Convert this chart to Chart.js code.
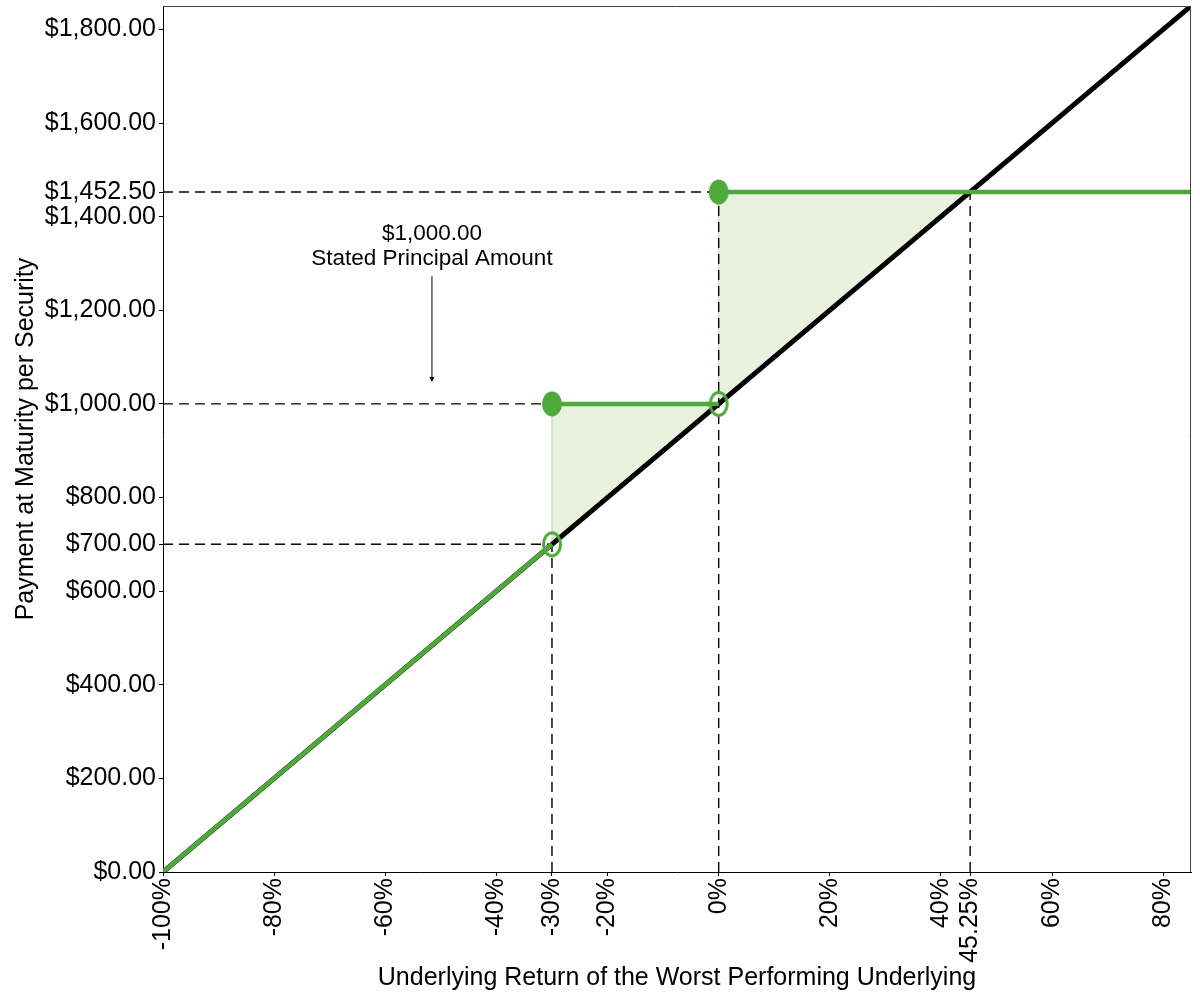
<!DOCTYPE html>
<html>
<head>
<meta charset="utf-8">
<script src="https://cdn.jsdelivr.net/npm/chart.js@4"></script>
<style>
  html, body { margin: 0; padding: 0; background: #fff; }
  #wrap { width: 1200px; height: 1000px; }
</style>
</head>
<body>
<div id="wrap"><canvas id="c" width="1200" height="1000"></canvas></div>
<script>
// ---- data ----
const xTicks = [-100, -80, -60, -40, -30, -20, 0, 20, 40, 45.25, 60, 80];
const yTicks = [0, 200, 400, 600, 700, 800, 1000, 1200, 1400, 1452.5, 1600, 1800];
const xRange = [-100, 85];
const yRange = [0, 1850];
const underlyingLine = [{x: -100, y: 0}, {x: 85, y: 1850}];
const payoffLow = [{x: -100, y: 0}, {x: -30, y: 700}];
const payoffMid = [{x: -30, y: 1000}, {x: 0, y: 1000}];
const payoffHigh = [{x: 0, y: 1452.5}, {x: 85, y: 1452.5}];
const outperformArea = [
  {x: -30, y: 700}, {x: -30, y: 1000}, {x: 0, y: 1000},
  {x: 0, y: 1452.5}, {x: 45.25, y: 1452.5}, {x: -30, y: 700}
];
const filledPoints = [{x: -30, y: 1000}, {x: 0, y: 1452.5}];
const openPoints = [{x: -30, y: 700}, {x: 0, y: 1000}];
const refLines = [
  [{x: -100, y: 1452.5}, {x: 0, y: 1452.5}],
  [{x: -100, y: 1000}, {x: -30, y: 1000}],
  [{x: -100, y: 700}, {x: -30, y: 700}],
  [{x: -30, y: 0}, {x: -30, y: 700}],
  [{x: 0, y: 0}, {x: 0, y: 1452.5}],
  [{x: 45.25, y: 0}, {x: 45.25, y: 1452.5}]
];
const annotationLines = ['$1,000.00', 'Stated Principal Amount'];
const xTitle = 'Underlying Return of the Worst Performing Underlying';
const yTitle = 'Payment at Maturity per Security';

// ---- styles ----
const GREEN = '#4ea83a';
const FONT = '"Liberation Sans", Arial, sans-serif';

function ellipseMarker(filled) {
  const cv = document.createElement('canvas');
  cv.width = 24; cv.height = 30;
  const g = cv.getContext('2d');
  g.beginPath();
  if (filled) {
    g.ellipse(12, 15, 10, 12.5, 0, 0, Math.PI * 2);
    g.fillStyle = GREEN; g.fill();
  } else {
    g.ellipse(12, 15, 8.5, 11.5, 0, 0, Math.PI * 2);
    g.lineWidth = 3; g.strokeStyle = GREEN; g.stroke();
  }
  return cv;
}

const datasets = [];
datasets.push({
  data: outperformArea, showLine: true, fill: 'shape',
  backgroundColor: '#e9f2df', borderColor: '#b3dca0', borderWidth: 1,
  pointRadius: 0, order: 10
});
refLines.forEach(seg => datasets.push({
  data: seg, showLine: true, borderColor: '#000', borderWidth: 1.4,
  borderDash: [10, 6], pointRadius: 0, order: 9
}));
datasets.push({
  data: underlyingLine, showLine: true, borderColor: '#000', borderWidth: 5,
  pointRadius: 0, order: 6
});
[payoffLow, payoffMid, payoffHigh].forEach(seg => datasets.push({
  data: seg, showLine: true, borderColor: GREEN, borderWidth: 4.5,
  pointRadius: 0, order: 5
}));
datasets.push({
  data: filledPoints, showLine: false, pointStyle: ellipseMarker(true), order: 2
});
datasets.push({
  data: openPoints, showLine: false, pointStyle: ellipseMarker(false), order: 1
});

const framePlugin = {
  id: 'frame',
  afterDatasetsDraw(chart) {
    const {ctx, chartArea: a, scales: {x, y}} = chart;
    ctx.save();
    // top and right frame
    ctx.strokeStyle = '#444';
    ctx.lineWidth = 1;
    ctx.beginPath();
    ctx.moveTo(a.left, a.top + 0.5);
    ctx.lineTo(a.right - 0.5, a.top + 0.5);
    ctx.lineTo(a.right - 0.5, a.bottom);
    ctx.stroke();
    // annotation
    const ax = x.getPixelForValue(-51.6);
    ctx.fillStyle = '#000';
    ctx.font = '22.5px ' + FONT;
    ctx.textAlign = 'center';
    ctx.textBaseline = 'middle';
    ctx.fillText(annotationLines[0], ax, y.getPixelForValue(1364));
    ctx.fillText(annotationLines[1], ax, y.getPixelForValue(1311));
    const y1 = y.getPixelForValue(1273), y2 = y.getPixelForValue(1047);
    ctx.strokeStyle = '#000';
    ctx.lineWidth = 1;
    ctx.beginPath();
    ctx.moveTo(ax, y1); ctx.lineTo(ax, y2 - 3);
    ctx.stroke();
    ctx.beginPath();
    ctx.moveTo(ax - 2.5, y2 - 5); ctx.lineTo(ax + 2.5, y2 - 5); ctx.lineTo(ax, y2);
    ctx.closePath(); ctx.fill();
    ctx.restore();
  }
};

new Chart(document.getElementById('c'), {
  type: 'scatter',
  data: { datasets },
  options: {
    responsive: false,
    animation: false,
    devicePixelRatio: 1,
    layout: { padding: { top: 6, right: 9, left: 0, bottom: 0 } },
    plugins: { legend: { display: false }, tooltip: { enabled: false } },
    scales: {
      x: {
        type: 'linear', min: xRange[0], max: xRange[1],
        afterBuildTicks: s => { s.ticks = xTicks.map(v => ({value: v})); },
        afterFit: s => { s.height = 128; s.paddingLeft = 0; s.paddingRight = 0; },
        ticks: {
          autoSkip: false, minRotation: 90, maxRotation: 90, padding: 2,
          color: '#000', font: { family: FONT, size: 25 },
          callback: v => v + '%'
        },
        grid: { display: true, drawOnChartArea: false, drawTicks: true, tickLength: 4, color: '#000' },
        border: { display: true, color: '#000', width: 1 },
        title: { display: true, text: xTitle, color: '#000', font: { family: FONT, size: 25 }, padding: { top: 0, bottom: 7 } }
      },
      y: {
        type: 'linear', min: yRange[0], max: yRange[1],
        afterBuildTicks: s => { s.ticks = yTicks.map(v => ({value: v})); },
        afterFit: s => { s.width = 163; s.paddingTop = 0; s.paddingBottom = 0; },
        ticks: {
          autoSkip: false, padding: 3, color: '#000', font: { family: FONT, size: 25 },
          callback: v => '$' + Number(v).toLocaleString('en-US', {minimumFractionDigits: 2, maximumFractionDigits: 2})
        },
        grid: { display: true, drawOnChartArea: false, drawTicks: true, tickLength: 4, color: '#000' },
        border: { display: true, color: '#000', width: 1 },
        title: { display: true, text: yTitle, color: '#000', font: { family: FONT, size: 25 }, padding: { top: 11, bottom: 0 } }
      }
    }
  },
  plugins: [framePlugin]
});
</script>
</body>
</html>
